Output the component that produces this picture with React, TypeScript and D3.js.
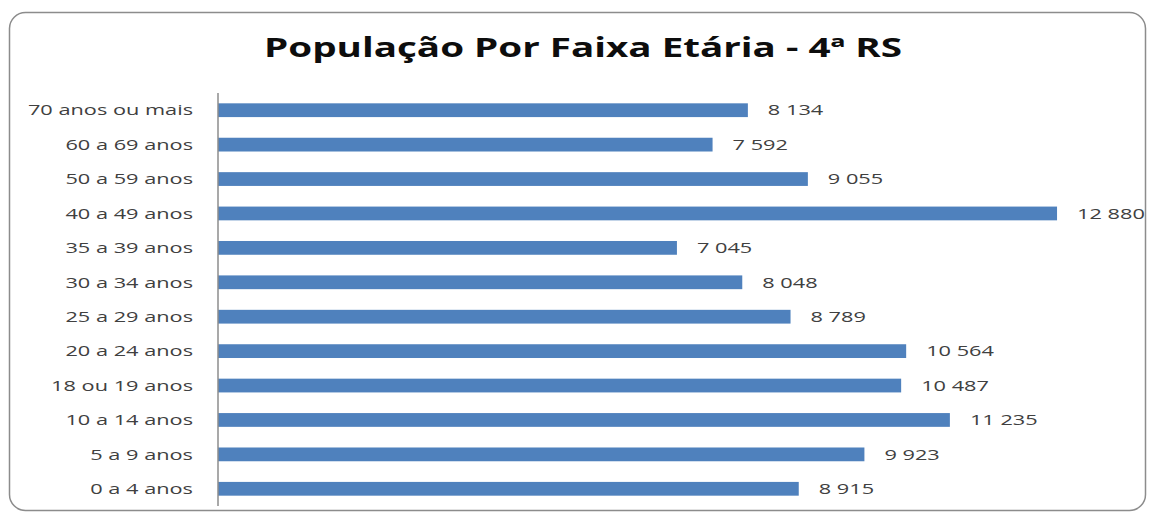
import React from 'react';
import * as d3 from 'd3';

const width = 1149;
const height = 518;

const categories = [
  '70 anos ou mais', '60 a 69 anos', '50 a 59 anos', '40 a 49 anos',
  '35 a 39 anos', '30 a 34 anos', '25 a 29 anos', '20 a 24 anos',
  '18 ou 19 anos', '10 a 14 anos', '5 a 9 anos', '0 a 4 anos'
];
const populacao = [8134, 7592, 9055, 12880, 7045, 8048, 8789, 10564, 10487, 11235, 9923, 8915];

const title = 'População Por Faixa Etária - 4ª RS';

const fmt = d3.formatLocale({ decimal: ',', thousands: '\u00a0', grouping: [3], currency: ['', ''] }).format(',d');

// the original picture is stretched sideways, so text is widened to match
const stretch = 1.45;

export default function App() {
  const x = d3.scaleLinear().domain([0, 14000]).range([218, 1130]);
  const y = d3.scaleBand().domain(categories).range([93, 506]).paddingInner(0.6).paddingOuter(0.3);

  const font = '"Open Sans", sans-serif';

  return (
    <svg width={width} height={height} style={{ position: 'absolute', left: 0, top: 0 }}>
      <rect x={0} y={0} width={width} height={height} fill="#ffffff" />
      <rect x={9.5} y={12.5} width={1136} height={498} rx={16} fill="#ffffff" stroke="#8c8c8c" strokeWidth={1.5} />
      <text transform={`translate(583,57) scale(1.43,1)`} textAnchor="middle" fontFamily={font}
        fontWeight="bold" fontSize={27} fill="#0d0d0d">
        {title}
      </text>
      {categories.map((c, i) => {
        const cy = (y(c) as number) + y.bandwidth() / 2;
        return (
          <g key={c}>
            <rect x={x(0)} y={y(c)} width={x(populacao[i]) - x(0)} height={y.bandwidth()} fill="#4f81bd" />
            <text transform={`translate(193,${cy}) scale(${stretch},1)`} dy="0.35em" textAnchor="end"
              fontFamily={font} fontSize={15} fill="#404040">{c}</text>
            <text transform={`translate(${x(populacao[i]) + 20},${cy}) scale(${stretch},1)`} dy="0.35em"
              fontFamily={font} fontSize={15} fill="#404040">{fmt(populacao[i])}</text>
          </g>
        );
      })}
      <line x1={x(0)} x2={x(0)} y1={93} y2={506} stroke="#8c8c8c" strokeWidth={1.5} />
    </svg>
  );
}
